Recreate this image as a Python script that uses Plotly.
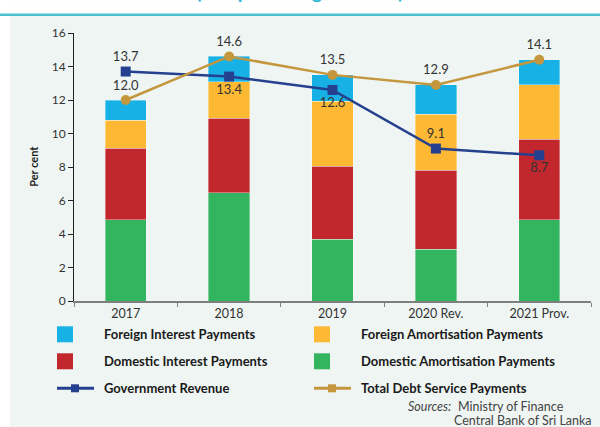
import plotly.graph_objects as go

# data
years = ["2017", "2018", "2019", "2020 Rev.", "2021 Prov."]
dom_amort = [4.86, 6.45, 3.68, 3.09, 4.86]
dom_interest = [4.26, 4.46, 4.38, 4.71, 4.81]
for_amort = [1.67, 2.19, 3.86, 3.36, 3.25]
for_interest = [1.21, 1.50, 1.58, 1.74, 1.48]
gov_revenue = [13.7, 13.4, 12.6, 9.1, 8.7]
total_debt = [12.0, 14.6, 13.5, 12.9, 14.4]
total_labels = ["12.0", "14.6", "13.5", "12.9", "14.1"]
gov_labels = ["13.7", "13.4", "12.6", "9.1", "8.7"]

C_BLUE = "#17b1e6"
C_YELLOW = "#fdb934"
C_RED = "#c1272d"
C_GREEN = "#33b45e"
C_NAVY = "#24408e"
C_GOLD = "#c4973e"
BG = "#eff5f3"
FONT = "Lato"

W, H = 600, 427
L, R = 74, 591
TOP, BOT = 32.7, 300.7


def px(x):
    return (x - L) / (R - L)


def py(y):
    return (BOT - y) / (BOT - TOP)


fig = go.Figure()

bar_line = dict(color="rgba(255,255,255,0.6)", width=0.6)
for vals, col, name in [
    (dom_amort, C_GREEN, "Domestic Amortisation Payments"),
    (dom_interest, C_RED, "Domestic Interest Payments"),
    (for_amort, C_YELLOW, "Foreign Amortisation Payments"),
    (for_interest, C_BLUE, "Foreign Interest Payments"),
]:
    fig.add_trace(go.Bar(x=years, y=vals, name=name, width=0.4,
                         marker=dict(color=col, line=bar_line)))

fig.add_trace(go.Scatter(
    x=years, y=gov_revenue, name="Government Revenue",
    mode="lines+markers+text", text=gov_labels,
    textposition=["top center", "bottom center", "bottom center", "top center", "bottom center"],
    textfont=dict(size=13, color="#333333", family=FONT),
    line=dict(color=C_NAVY, width=2.5),
    marker=dict(symbol="square", size=10, color=C_NAVY),
))
fig.add_trace(go.Scatter(
    x=years, y=total_debt, name="Total Debt Service Payments",
    mode="lines+markers+text", text=total_labels, textposition="top center",
    textfont=dict(size=13, color="#333333", family=FONT),
    line=dict(color=C_GOLD, width=2.5),
    marker=dict(symbol="circle", size=10, color=C_GOLD),
))

shapes = [
    # white strips around the panel
    dict(type="rect", xref="paper", yref="paper", x0=px(0), x1=px(W), y0=py(0), y1=py(14),
         fillcolor="white", line_width=0, layer="below"),
    dict(type="rect", xref="paper", yref="paper", x0=px(0), x1=px(10), y0=py(0), y1=py(H),
         fillcolor="white", line_width=0, layer="below"),
    dict(type="line", xref="paper", yref="paper", x0=px(0), x1=px(W), y0=py(14.5), y1=py(14.5),
         line=dict(color="#4cc0cf", width=2.5)),
]

annotations = [
    dict(text="<b>(as a percentage of GDP)</b>", xref="paper", yref="paper",
         x=px(300), y=py(5), xanchor="center", yanchor="bottom", showarrow=False,
         font=dict(size=19, color="#29b6d1", family=FONT)),
    dict(text="<b>Per cent</b>", xref="paper", yref="paper", x=px(25), y=py(166),
         textangle=-90, showarrow=False, font=dict(size=11, color="#222222", family=FONT)),
]

# legend, drawn by hand in two columns
legend_items = [
    ("box", C_BLUE, "Foreign Interest Payments", 57, 334),
    ("box", C_YELLOW, "Foreign Amortisation Payments", 314, 334),
    ("box", C_RED, "Domestic Interest Payments", 57, 361),
    ("box", C_GREEN, "Domestic Amortisation Payments", 314, 361),
    ("line", C_NAVY, "Government Revenue", 57, 388),
    ("line", C_GOLD, "Total Debt Service Payments", 314, 388),
]
for kind, col, label, x0, yc in legend_items:
    if kind == "box":
        shapes.append(dict(type="rect", xref="paper", yref="paper",
                           x0=px(x0), x1=px(x0 + 16), y0=py(yc + 8), y1=py(yc - 8),
                           fillcolor=col, line_width=0))
    else:
        shapes.append(dict(type="line", xref="paper", yref="paper",
                           x0=px(x0), x1=px(x0 + 37), y0=py(yc), y1=py(yc),
                           line=dict(color=col, width=3)))
        shapes.append(dict(type="rect", xref="paper", yref="paper",
                           x0=px(x0 + 14), x1=px(x0 + 22), y0=py(yc + 4), y1=py(yc - 4),
                           fillcolor=col, line_width=0))
    annotations.append(dict(text="<b>" + label + "</b>", xref="paper", yref="paper",
                            x=px(x0 + 45), y=py(yc), xanchor="left", yanchor="middle",
                            showarrow=False, font=dict(size=13, color="#1a1a1a", family=FONT)))

annotations.append(dict(text="<i>Sources:</i>", xref="paper", yref="paper",
                        x=px(453), y=py(406), xanchor="right", yanchor="middle", showarrow=False,
                        font=dict(size=12.5, color="#444444", family=FONT)))
annotations.append(dict(text="Ministry of Finance", xref="paper", yref="paper",
                        x=px(456), y=py(406), xanchor="left", yanchor="middle", showarrow=False,
                        font=dict(size=12.5, color="#444444", family=FONT)))
annotations.append(dict(text="Central Bank of Sri Lanka", xref="paper", yref="paper",
                        x=px(452), y=py(420), xanchor="left", yanchor="middle", showarrow=False,
                        font=dict(size=12.5, color="#444444", family=FONT)))

fig.update_layout(
    width=W, height=H,
    margin=dict(l=L, r=W - R, t=TOP, b=H - BOT),
    barmode="stack",
    showlegend=False,
    paper_bgcolor=BG,
    plot_bgcolor=BG,
    font=dict(family=FONT, color="#333333", size=12),
    shapes=shapes,
    annotations=annotations,
)
fig.update_xaxes(
    showline=True, linecolor="#7f7f7f", linewidth=2,
    ticks="outside", tickson="boundaries", ticklen=4, tickcolor="#7f7f7f",
    tickfont=dict(size=12.5, color="#333333"), showgrid=False,
)
fig.update_yaxes(
    range=[0, 16], dtick=2, showline=True, linecolor="#222222", linewidth=1,
    ticks="outside", ticklen=5, tickcolor="#222222",
    tickfont=dict(size=12, color="#333333"), showgrid=False, zeroline=False,
)

# the page body has a default 8px margin; drop it so the figure sits at 0,0
fig.write_html("out.html", config={"displayModeBar": False},
               post_script="document.body.style.margin='0';")
